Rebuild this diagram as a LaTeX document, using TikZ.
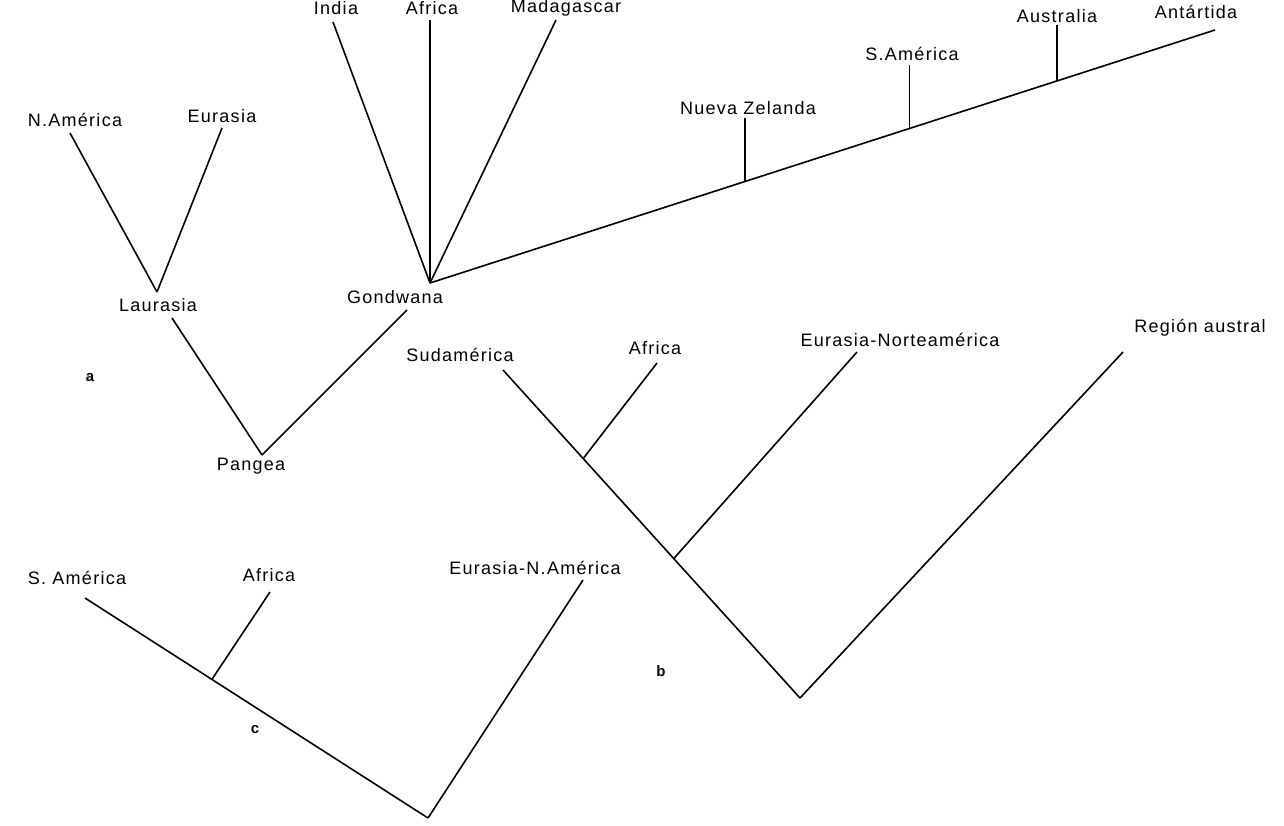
\documentclass[tikz,border=0pt]{standalone}
\usepackage{fontspec}
\setmainfont{Liberation Sans}[LetterSpace=7]
\usepackage{tikz}
\usetikzlibrary{positioning,calc}
\tikzset{
  every picture/.style = {
    x = 0.5pt,
    y = -0.5pt,
    line width = 0.8pt,
  }
  ,
  area/.style = {
    font = \fontsize{9}{10}\selectfont,
    inner sep = 1pt
  }
  , % letters of the panels
  panel/.style = {
    font = \fontsize{7.5}{8}\selectfont\bfseries,
    inner sep = 0pt
  }
  ,
  branch/.style = {
    draw,
    -
  }
}

\begin{document}
\begin{tikzpicture}
\useasboundingbox (0,0) rectangle (1284,825);

% a: Laurasia and Gondwana
\node [area] (NAm) at (75,120) {N.América};
\node [area] (Eur) at (222,116) {Eurasia};
\node [area] (Laur) at (158,305) {Laurasia};
\node [area] (Gond) at (395,297) {Gondwana};
\node [area] (Pang) at (251,466) {Pangea};
\node [area] (India) at (336,8) {India};
\node [area] (AfrA) at (432,8) {Africa};
\node [area] (Mad) at (566,8) {Madagascar};
\node [area] (NZ) at (748,108) {Nueva Zelanda};
\node [area] (SAmA) at (912,54) {S.América};
\node [area] (Aus) at (1057,16) {Australia};
\node [area] (Ant) at (1196,12) {Antártida};
\node [panel] (pa) at (90,378) {a};

\coordinate (tNAm) at (70,133);
\coordinate (tEur) at (222,128);
\coordinate (laur) at (157,292);
\coordinate (sLaur) at (172,318);
\coordinate (sGond) at (407,310);
\coordinate (pang) at (262,455);
\coordinate (gond) at (430,283);
\coordinate (tIndia) at (333,22);
\coordinate (tAfrA) at (430,20);
\coordinate (tMad) at (556,20);
\coordinate (tAnt) at (1215,30);
\coordinate (nz) at ($(gond)!0.401!(tAnt)$);
\coordinate (sam) at ($(gond)!0.611!(tAnt)$);
\coordinate (aus) at ($(gond)!0.799!(tAnt)$);

\path (tNAm) edge[branch] (laur);
\path (tEur) edge[branch] (laur);
\path (sLaur) edge[branch] (pang);
\path (sGond) edge[branch] (pang);
\path (gond) edge[branch] (tIndia);
\path (gond) edge[branch] (tAfrA);
\path (gond) edge[branch] (tMad);
\path (gond) edge[branch] (tAnt);
\path (nz) edge[branch] (nz |- 0,118);
\path (sam) edge[branch] (sam |- 0,65);
\path (aus) edge[branch] (aus |- 0,25);

% b: four areas
\node [area] (Sud) at (460,355) {Sudamérica};
\node [area] (AfrB) at (655,348) {Africa};
\node [area] (EurNort) at (900,340) {Eurasia-Norteamérica};
\node [area] (Aust) at (1200,328) {Región austral};
\node [panel] (pb) at (661,671) {b};

\coordinate (tSud) at (503,370);
\coordinate (rootB) at (800,698);
\coordinate (tAfrB) at (657,363);
\coordinate (tEurNort) at (857,352);
\coordinate (tAust) at (1123,352);
\coordinate (afrB) at ($(tSud)!0.27!(rootB)$);
\coordinate (eurNort) at ($(tSud)!0.575!(rootB)$);

\path (tSud) edge[branch] (rootB);
\path (afrB) edge[branch] (tAfrB);
\path (eurNort) edge[branch] (tEurNort);
\path (rootB) edge[branch] (tAust);

% c: three areas
\node [area] (SAmC) at (77,578) {S. América};
\node [area] (AfrC) at (269,575) {Africa};
\node [area] (EurNA) at (535,568) {Eurasia-N.América};
\node [panel] (pc) at (255,730) {c};

\coordinate (tSAmC) at (85,598);
\coordinate (tAfrC) at (270,592);
\coordinate (tEurNA) at (583,580);
\coordinate (rootC) at (428,818);
\coordinate (afrC) at ($(tSAmC)!0.370!(rootC)$);

\path (tSAmC) edge[branch] (rootC);
\path (afrC) edge[branch] (tAfrC);
\path (rootC) edge[branch] (tEurNA);
\end{tikzpicture}
\end{document}
